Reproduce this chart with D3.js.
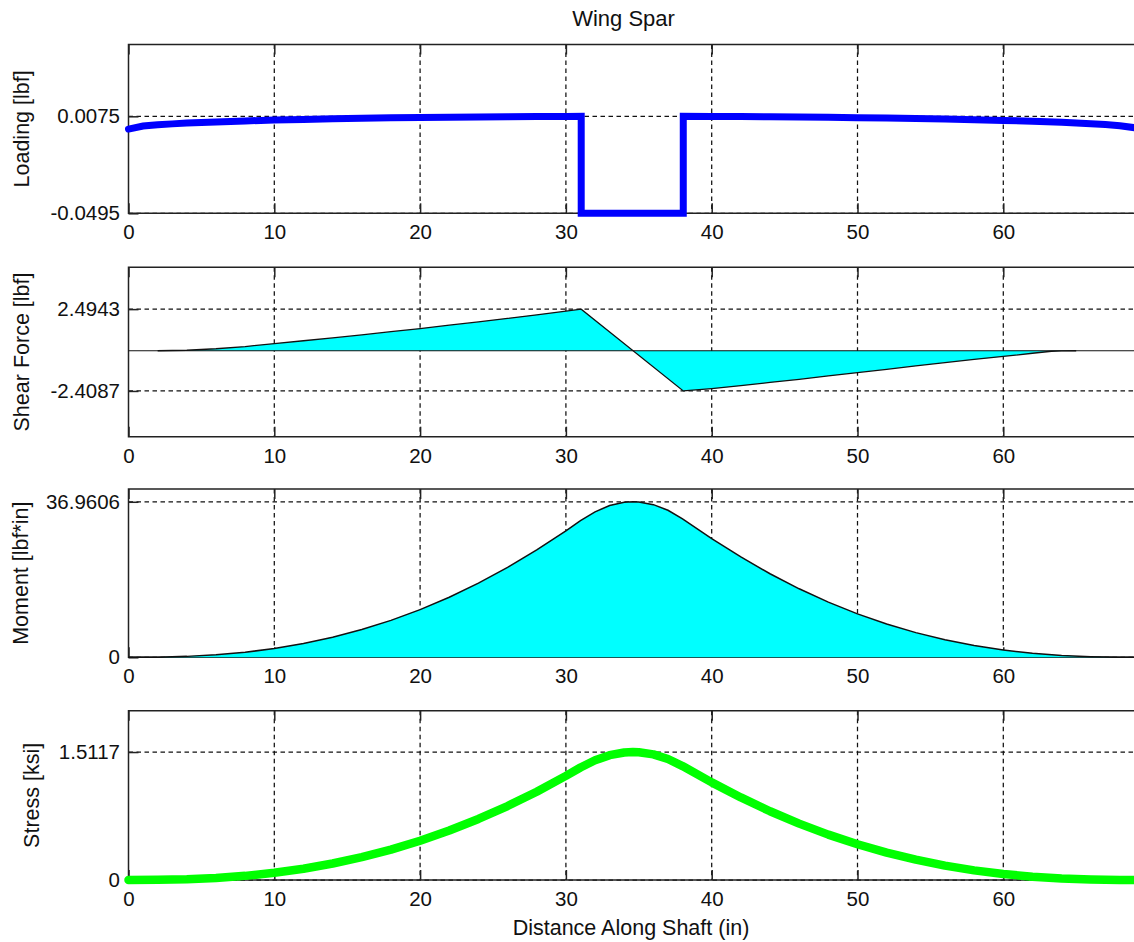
<!DOCTYPE html>
<html>
<head>
<meta charset="utf-8">
<script src="https://cdn.jsdelivr.net/npm/d3@7"></script>
<style>
  html, body { margin: 0; padding: 0; background: #fff; }
  svg { display: block; }
  text { font-family: "Liberation Sans", Arial, sans-serif; fill: #111; }
</style>
</head>
<body>
<svg id="fig" width="1134" height="942"></svg>
<script>
// ---- data -------------------------------------------------------------
const xTicks = [0, 10, 20, 30, 40, 50, 60];

// distributed loading along the spar, with the concentrated block near mid-span
const loadX = [0, 1, 2, 3, 4, 5, 6, 8, 10, 12, 14, 16, 18, 20, 22, 24, 26, 28, 30, 31.05,
               31.05, 38.05,
               38.05, 40, 42, 44, 46, 48, 50, 52, 54, 56, 58, 60, 62, 64, 65, 66, 67, 68, 69];
const loadY = [0, 0.00179, 0.00251, 0.00305, 0.00350, 0.00388, 0.00422, 0.00480, 0.00527, 0.00568,
               0.00603, 0.00632, 0.00658, 0.00680, 0.00698, 0.00714, 0.00726, 0.00736, 0.00743, 0.00746,
               -0.0495, -0.0495,
               0.00746, 0.00741, 0.00733, 0.00722, 0.00708, 0.00691, 0.00672, 0.00648, 0.00621, 0.00589,
               0.00552, 0.00509, 0.00458, 0.00395, 0.00358, 0.00315, 0.00263, 0.00196, 0.00081];
const loadTicks = [-0.0495, 0.0075];

// shear force
const shearX = [2, 4, 6, 8, 10, 12, 14, 16, 18, 20, 22, 24, 26, 28, 30, 31.05,
                38.05, 40, 42, 44, 46, 48, 50, 52, 54, 56, 58, 60, 62, 63.3, 64, 65];
const shearY = [0, 0.03, 0.12, 0.25, 0.43, 0.60, 0.77, 0.95, 1.14, 1.33, 1.53, 1.73, 1.94, 2.15, 2.37, 2.4943,
                -2.4087, -2.27, -2.09, -1.90, -1.71, -1.51, -1.31, -1.11, -0.91, -0.71, -0.52, -0.34, -0.15, -0.03, -0.01, 0];
const shearTicks = [-2.4087, 2.4943];

// bending moment
const momentX = [0, 2, 4, 6, 8, 10, 12, 14, 16, 18, 20, 22, 24, 26, 28, 30, 31, 32, 33, 34, 34.6,
                 35, 36, 37, 38, 40, 42, 44, 46, 48, 50, 52, 54, 56, 58, 60, 62, 64, 66, 68, 69];
const momentY = [0, 0.04, 0.22, 0.59, 1.20, 2.08, 3.26, 4.76, 6.59, 8.78, 11.34, 14.28, 17.62, 21.36, 25.51,
                 30.07, 32.5, 34.58, 36.06, 36.83, 36.9606,
                 36.90, 36.28, 34.95, 32.9, 28.2, 23.85, 19.86, 16.28, 13.1, 10.32, 7.9, 5.86, 4.16, 2.79,
                 1.73, 0.96, 0.44, 0.15, 0.01, 0];
const momentTicks = [0, 36.9606];

// bending stress
const stressX = momentX;
const stressY = [0, 0.002, 0.009, 0.024, 0.049, 0.085, 0.133, 0.195, 0.270, 0.359, 0.464, 0.584, 0.721, 0.874,
                 1.043, 1.230, 1.329, 1.414, 1.475, 1.506, 1.5117,
                 1.509, 1.484, 1.429, 1.346, 1.153, 0.975, 0.812, 0.666, 0.536, 0.422, 0.323, 0.240, 0.170,
                 0.114, 0.071, 0.039, 0.018, 0.006, 0.001, 0];
const stressTicks = [0, 1.5117];

// ---- layout -----------------------------------------------------------
const svg = d3.select("#fig");
const plotLeft = 128.5, pxPerUnit = 14.58;
const x = d3.scaleLinear().domain([0, 70]).range([plotLeft, plotLeft + 70 * pxPerUnit]);
const plotRight = x(70);
const TICK = 10;
const fontTick = 20.5, fontLabel = 21.5;

svg.append("rect").attr("width", 1134).attr("height", 942).attr("fill", "#fff");

const panels = [
  { top: 44.5, bottom: 213.3, domain: [-0.0495, 0.0497], ticks: loadTicks,   label: "Loading [lbf]",     labelX: 29 },
  { top: 267.3, bottom: 436.7, domain: [-5.15, 5.0],     ticks: shearTicks,  label: "Shear Force [lbf]", labelX: 28.5 },
  { top: 489.0, bottom: 657.3, domain: [0, 40],          ticks: momentTicks, label: "Moment [lbf*in]",   labelX: 27.5 },
  { top: 710.7, bottom: 880.0, domain: [0, 2],           ticks: stressTicks, label: "Stress [ksi]",      labelX: 38.5 }
];

function frame(p) {
  const y = d3.scaleLinear().domain(p.domain).range([p.bottom, p.top]);
  const g = svg.append("g");
  // dashed grid
  const grid = g.append("g").attr("stroke", "#111").attr("stroke-width", 1.25).attr("stroke-dasharray", "4.5,3.5");
  grid.selectAll("line.gx").data(xTicks.filter(d => d > 0)).join("line")
    .attr("x1", d => x(d)).attr("x2", d => x(d)).attr("y1", p.top).attr("y2", p.bottom);
  grid.selectAll("line.gy").data(p.ticks).join("line")
    .attr("x1", plotLeft).attr("x2", plotRight).attr("y1", d => y(d)).attr("y2", d => y(d));
  // axes box (right side lies outside the canvas)
  g.append("path")
    .attr("d", `M${plotRight},${p.top}H${plotLeft}V${p.bottom}H${plotRight}`)
    .attr("fill", "none").attr("stroke", "#222").attr("stroke-width", 1.5);
  // x ticks (bottom, with labels) and top ticks
  const xb = g.append("g").attr("transform", `translate(0,${p.bottom})`)
    .call(d3.axisBottom(x).tickValues(xTicks).tickFormat(d => String(d))
      .tickSizeInner(-TICK).tickSizeOuter(0).tickPadding(11.3));
  const xt = g.append("g").attr("transform", `translate(0,${p.top})`)
    .call(d3.axisTop(x).tickValues(xTicks).tickFormat("").tickSizeInner(-TICK).tickSizeOuter(0));
  const yl = g.append("g").attr("transform", `translate(${plotLeft},0)`)
    .call(d3.axisLeft(y).tickValues(p.ticks).tickFormat(d => String(d))
      .tickSizeInner(-TICK).tickSizeOuter(0).tickPadding(8.5));
  [xb, xt, yl].forEach(a => {
    a.select(".domain").remove();
    a.selectAll("line").attr("stroke", "#222").attr("stroke-width", 1.5);
    a.selectAll("text").attr("font-size", fontTick).attr("fill", "#111")
      .attr("font-family", "'Liberation Sans', Arial, sans-serif");
  });
  // y label
  svg.append("text")
    .attr("transform", `translate(${p.labelX},${(p.top + p.bottom) / 2}) rotate(-90)`)
    .attr("text-anchor", "middle").attr("font-size", fontLabel).text(p.label);
  return y;
}

const ys = panels.map(frame);

// ---- loading ----------------------------------------------------------
{
  const y = ys[0];
  const pts = loadX.map((d, i) => [d, loadY[i]]);
  svg.append("path").datum(pts)
    .attr("d", d3.line().x(d => x(d[0])).y(d => y(d[1])))
    .attr("fill", "none").attr("stroke", "#0000ff").attr("stroke-width", 7)
    .attr("stroke-linejoin", "miter").attr("stroke-linecap", "round");
}

// ---- shear force ------------------------------------------------------
{
  const y = ys[1];
  const pts = shearX.map((d, i) => [d, shearY[i]]);
  svg.append("path").datum(pts)
    .attr("d", d3.area().x(d => x(d[0])).y0(y(0)).y1(d => y(d[1])))
    .attr("fill", "#00ffff").attr("stroke", "none");
  svg.append("line").attr("x1", plotLeft).attr("x2", plotRight).attr("y1", y(0)).attr("y2", y(0))
    .attr("stroke", "#111").attr("stroke-width", 1.2);
  svg.append("path").datum(pts)
    .attr("d", d3.line().x(d => x(d[0])).y(d => y(d[1])))
    .attr("fill", "none").attr("stroke", "#111").attr("stroke-width", 1.3);
}

// ---- moment -----------------------------------------------------------
{
  const y = ys[2];
  const pts = momentX.map((d, i) => [d, momentY[i]]);
  svg.append("path").datum(pts)
    .attr("d", d3.area().x(d => x(d[0])).y0(y(0)).y1(d => y(d[1])))
    .attr("fill", "#00ffff").attr("stroke", "none");
  svg.append("path").datum(pts)
    .attr("d", d3.line().x(d => x(d[0])).y(d => y(d[1])))
    .attr("fill", "none").attr("stroke", "#111").attr("stroke-width", 1.5);
}

// ---- stress -----------------------------------------------------------
{
  const y = ys[3];
  const pts = stressX.map((d, i) => [d, stressY[i]]);
  svg.append("path").datum(pts)
    .attr("d", d3.line().x(d => x(d[0])).y(d => y(d[1])))
    .attr("fill", "none").attr("stroke", "#00ff00").attr("stroke-width", 8.5)
    .attr("stroke-linejoin", "round").attr("stroke-linecap", "round");
}

// ---- titles -----------------------------------------------------------
svg.append("text").attr("x", 623.5).attr("y", 26).attr("text-anchor", "middle")
  .attr("font-size", 22).text("Wing Spar");
svg.append("text").attr("x", 631).attr("y", 935).attr("text-anchor", "middle")
  .attr("font-size", fontLabel).text("Distance Along Shaft (in)");
</script>
</body>
</html>
